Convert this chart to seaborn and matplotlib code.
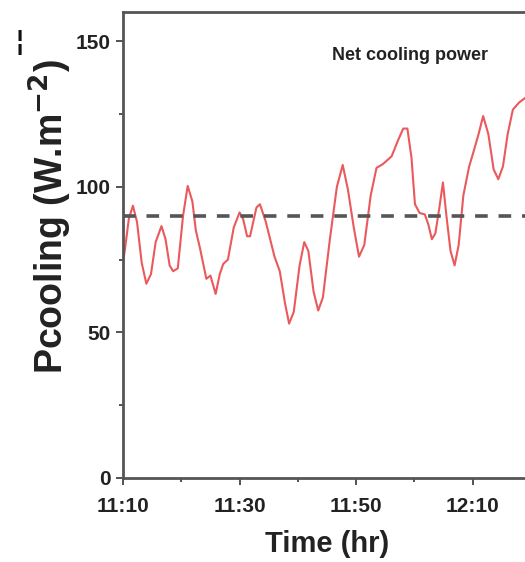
import numpy as np
import pandas as pd
import matplotlib
matplotlib.use("Agg")
import matplotlib.pyplot as plt
import seaborn as sns

# ---- data (minutes after 11:10, net cooling power in W/m^2) ----
minutes = [0.0, 0.3, 1.0, 1.7, 2.4, 3.2, 4.0, 4.8, 5.6, 6.6, 7.3, 8.0, 8.6, 9.4,
           10.3, 11.1, 11.9, 12.5, 13.2, 14.3, 15.0, 15.9, 16.6, 17.2, 18.0, 19.0,
           20.0, 20.6, 21.3, 21.8, 22.9, 23.5, 24.5, 26.0, 26.9, 27.8, 28.5, 29.3,
           30.3, 31.1, 31.8, 32.7, 33.5, 34.3, 35.5, 36.7, 37.7, 38.6, 39.6, 40.5,
           41.4, 42.5, 43.5, 44.6, 46.1, 47.2, 48.1, 48.8, 49.5, 50.1, 50.9, 51.8,
           52.4, 53.0, 53.6, 54.3, 54.9, 55.5, 56.2, 56.9, 57.6, 58.4, 59.4, 60.1,
           61.0, 61.8, 62.7, 63.6, 64.4, 65.2, 66.0, 66.9, 68.0, 69.0, 69.5]
power = [74, 78, 89, 93.5, 88, 74, 66.7, 70, 81, 86.5, 82, 73, 71, 72,
         90, 100.3, 95, 85, 79, 68.4, 69.5, 63.2, 70, 73.5, 75, 86,
         91.2, 89, 83, 83, 92.9, 94, 88, 76, 71, 60, 53, 57,
         73, 81, 78, 64, 57.5, 62, 82, 100, 107.5, 99, 86, 76,
         80, 97, 106.5, 107.8, 110.5, 116, 120, 120, 110, 94, 91, 90.5,
         87, 82, 84, 93, 101.5, 90, 78, 73, 80, 97, 107, 111.7,
         118, 124.3, 118, 106, 102.6, 107, 118, 126.5, 129, 130.5, 131]
reference_level = 90
xtick_pos = [0, 20, 40, 60]
xtick_labels = ["11:10", "11:30", "11:50", "12:10"]
ytick_pos = [0, 50, 100, 150]
title_text = "Net cooling power"

df = pd.DataFrame({"minutes": minutes, "power": power})

sns.set_style("white")
plt.rcParams["font.family"] = ["Liberation Sans", "DejaVu Sans"]

fig = plt.figure(figsize=(5.25, 5.62), dpi=100)
ax = fig.add_axes([0.2343, 0.1495, 0.777, 0.829])

sns.lineplot(data=df, x="minutes", y="power", ax=ax, color="#e8474a",
             linewidth=1.5, alpha=0.9)
ax.axhline(reference_level, color="#555555", linewidth=2.6,
           linestyle=(0, (3.5, 3.0)), zorder=3)

ax.set_xlim(0, 70)
ax.set_ylim(0, 160)

ax.set_xticks(xtick_pos)
ax.set_xticklabels(xtick_labels)
ax.set_xticks([10, 30, 50], minor=True)
ax.set_yticks(ytick_pos)
ax.set_yticks([25, 75, 125], minor=True)

ax.tick_params(axis="both", which="major", direction="out", length=5, width=1.3,
               color="#444444", labelsize=15, labelcolor="#222222",
               bottom=True, left=True)
ax.tick_params(axis="x", which="major", pad=9)
ax.tick_params(axis="y", which="major", pad=4)
ax.tick_params(axis="both", which="minor", direction="out", length=3, width=1.3,
               color="#444444", bottom=True, left=True)
for lab in ax.get_xticklabels() + ax.get_yticklabels():
    lab.set_fontweight("bold")

for side in ["left", "bottom", "top", "right"]:
    ax.spines[side].set_visible(True)
    ax.spines[side].set_color("#555555")
    ax.spines[side].set_linewidth(2.0)

ax.set_xlabel("Time (hr)", fontsize=21, fontweight="bold", color="#222222", labelpad=10)
ax.set_ylabel(r"Pcooling (W.m$^{\mathbf{-2}}$)", fontsize=27, fontweight="bold",
              color="#222222")
ax.yaxis.set_label_coords(-0.12, 0.56)

ax.text(49.2, 145, title_text, fontsize=13, fontweight="bold", color="#222222",
        ha="center", va="center")

fig.text(20 / 525, 1 - 42 / 562, "\u00a6", fontsize=20, fontweight="bold",
         color="#111111", ha="center", va="center", family=["DejaVu Sans"])

fig.savefig("out.png", dpi=100)
